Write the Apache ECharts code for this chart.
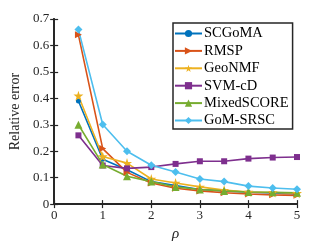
<!DOCTYPE html>
<html><head><meta charset="utf-8">
<script src="https://cdn.jsdelivr.net/npm/echarts@6/dist/echarts.min.js"></script>
<style>html,body{margin:0;padding:0;background:#fff}#c{width:329px;height:247px}</style>
</head><body><div id="c"></div>
<script>
var rho = [0.5,1,1.5,2,2.5,3,3.5,4,4.5,5];
var SCGoMA = [0.39,0.17,0.13,0.085,0.07,0.055,0.05,0.045,0.042,0.038];
var RMSP = [0.64,0.21,0.12,0.08,0.06,0.05,0.043,0.038,0.035,0.033];
var GeoNMF = [0.41,0.18,0.155,0.095,0.08,0.065,0.053,0.046,0.044,0.041];
var SVMcD = [0.26,0.146,0.135,0.14,0.152,0.162,0.162,0.172,0.176,0.178];
var MixedSCORE = [0.30,0.15,0.105,0.085,0.065,0.055,0.05,0.046,0.045,0.043];
var GoMSRSC = [0.66,0.301,0.20,0.147,0.121,0.095,0.085,0.068,0.061,0.056];
var xTicks = [0,1,2,3,4,5];
var yTicks = [0,0.1,0.2,0.3,0.4,0.5,0.6,0.7];

var star = 'path://M50,0 L61,35 L98,35 L68,57 L79,91 L50,70 L21,91 L32,57 L2,35 L39,35 Z';
function pair(arr){ return rho.map(function(r,i){return [r,arr[i]];}); }
function mk(name, arr, color, symbol, size, rot){
  return {name:name, type:'line', data:pair(arr), symbol:symbol, symbolSize:size, symbolRotate:rot||0,
    lineStyle:{color:color,width:1.6}, itemStyle:{color:color}, color:color, z:3};
}
var font = 'Liberation Serif';
var axisCommon = {axisLine:{show:true,lineStyle:{color:'#262626',width:1.8}},
  axisTick:{show:true,inside:true,length:4,lineStyle:{color:'#262626',width:1.2}},
  splitLine:{show:false}};
var chart = echarts.init(document.getElementById('c'));
chart.setOption({
  animation:false,
  backgroundColor:'#fff',
  grid:{left:42,right:32,top:19,bottom:36},
  xAxis:[
    Object.assign({type:'value',min:0,max:5,interval:1,position:'bottom',
      name:'ρ',nameLocation:'middle',nameGap:18,
      nameTextStyle:{fontFamily:font,fontStyle:'italic',fontSize:15,color:'#262626'},
      axisLabel:{fontFamily:font,fontSize:13,color:'#262626',margin:5}},axisCommon),
    Object.assign({type:'value',min:0,max:5,interval:1,position:'top',axisLabel:{show:false}},axisCommon)
  ],
  yAxis:[
    Object.assign({type:'value',min:0,max:0.7,interval:0.1,position:'left',
      name:'Relative error',nameLocation:'middle',nameGap:26,
      nameTextStyle:{fontFamily:font,fontSize:14,color:'#262626'},
      axisLabel:{fontFamily:font,fontSize:13,color:'#262626',margin:5,
        formatter:function(v){return v===0?'0':v.toFixed(1);}}},axisCommon),
    Object.assign({type:'value',min:0,max:0.7,interval:0.1,position:'right',axisLabel:{show:false}},axisCommon)
  ],
  legend:{orient:'vertical',left:173,top:23,width:120,padding:[3,4,1,1],itemGap:2.4,itemWidth:27,itemHeight:9,
    backgroundColor:'#fff',borderColor:'#262626',borderWidth:1.5,borderRadius:0,
    textStyle:{fontFamily:font,fontSize:14.5,lineHeight:15,color:'#000',padding:[0,0,0,-3]},
    data:['SCGoMA','RMSP','GeoNMF','SVM-cD','MixedSCORE','GoM-SRSC']},
  series:[
    mk('SCGoMA',SCGoMA,'#0072BD','circle',5),
    mk('RMSP',RMSP,'#D95319','triangle',7,-90),
    mk('GeoNMF',GeoNMF,'#EDB120',star,10),
    mk('SVM-cD',SVMcD,'#7E2F8E','rect',6),
    mk('MixedSCORE',MixedSCORE,'#77AC30','triangle',8),
    mk('GoM-SRSC',GoMSRSC,'#4DBEEE','diamond',8)
  ]
});
</script></body></html>
